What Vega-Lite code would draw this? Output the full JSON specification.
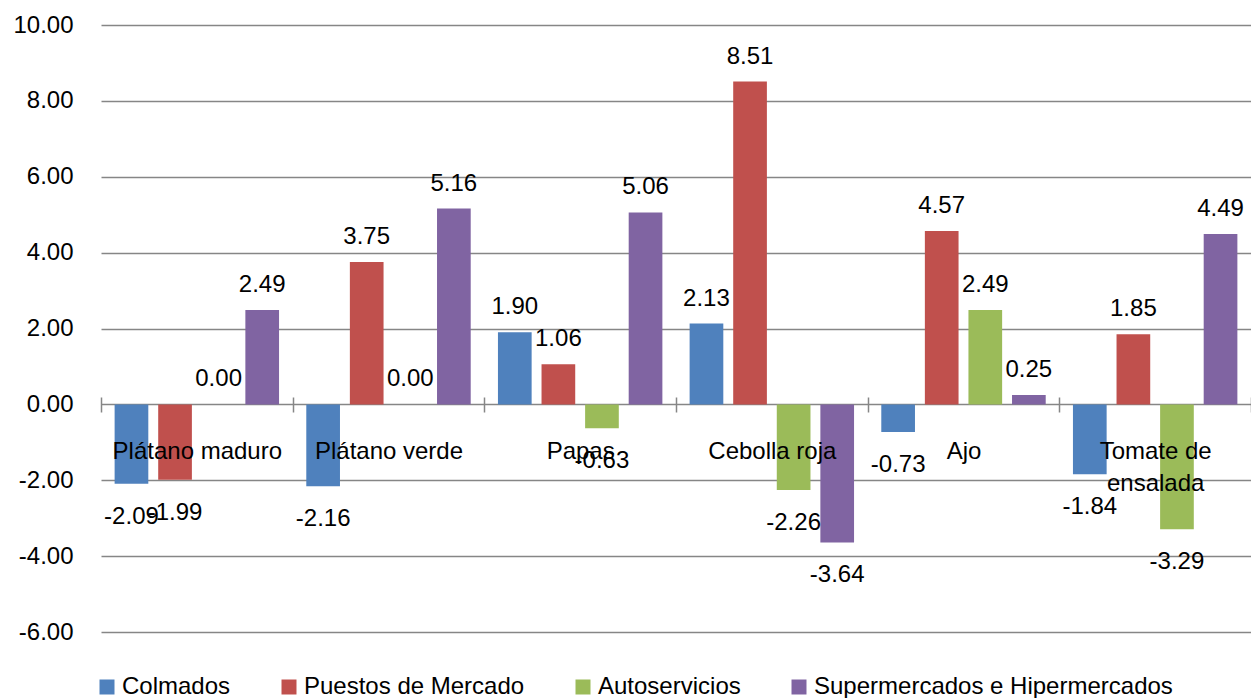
{
  "$schema": "https://vega.github.io/schema/vega-lite/v6.json",
  "width": 1150,
  "height": 607,
  "autosize": {"type": "none"},
  "padding": {"left": 101, "top": 25, "right": 0, "bottom": 66},
  "background": "white",
  "config": {
    "view": {"stroke": null},
    "font": "Liberation Sans",
    "text": {"font": "Liberation Sans"},
    "locale": {
      "number": {
        "decimal": ".",
        "thousands": ",",
        "grouping": [3],
        "currency": ["$", ""],
        "minus": "-"
      }
    }
  },
  "data": {
    "values": [
      {"producto": "Plátano maduro", "canal": "Colmados", "valor": -2.09},
      {"producto": "Plátano maduro", "canal": "Puestos de Mercado", "valor": -1.99},
      {"producto": "Plátano maduro", "canal": "Autoservicios", "valor": 0.0},
      {"producto": "Plátano maduro", "canal": "Supermercados e Hipermercados", "valor": 2.49},
      {"producto": "Plátano verde", "canal": "Colmados", "valor": -2.16},
      {"producto": "Plátano verde", "canal": "Puestos de Mercado", "valor": 3.75},
      {"producto": "Plátano verde", "canal": "Autoservicios", "valor": 0.0},
      {"producto": "Plátano verde", "canal": "Supermercados e Hipermercados", "valor": 5.16},
      {"producto": "Papas", "canal": "Colmados", "valor": 1.9},
      {"producto": "Papas", "canal": "Puestos de Mercado", "valor": 1.06},
      {"producto": "Papas", "canal": "Autoservicios", "valor": -0.63},
      {"producto": "Papas", "canal": "Supermercados e Hipermercados", "valor": 5.06},
      {"producto": "Cebolla roja", "canal": "Colmados", "valor": 2.13},
      {"producto": "Cebolla roja", "canal": "Puestos de Mercado", "valor": 8.51},
      {"producto": "Cebolla roja", "canal": "Autoservicios", "valor": -2.26},
      {"producto": "Cebolla roja", "canal": "Supermercados e Hipermercados", "valor": -3.64},
      {"producto": "Ajo", "canal": "Colmados", "valor": -0.73},
      {"producto": "Ajo", "canal": "Puestos de Mercado", "valor": 4.57},
      {"producto": "Ajo", "canal": "Autoservicios", "valor": 2.49},
      {"producto": "Ajo", "canal": "Supermercados e Hipermercados", "valor": 0.25},
      {"producto": "Tomate de ensalada", "canal": "Colmados", "valor": -1.84},
      {"producto": "Tomate de ensalada", "canal": "Puestos de Mercado", "valor": 1.85},
      {"producto": "Tomate de ensalada", "canal": "Autoservicios", "valor": -3.29},
      {"producto": "Tomate de ensalada", "canal": "Supermercados e Hipermercados", "valor": 4.49}
    ]
  },
  "encoding": {
    "x": {
      "field": "producto",
      "type": "nominal",
      "sort": null,
      "title": null,
      "scale": {"paddingInner": 0, "paddingOuter": 0},
      "axis": {
        "orient": "bottom",
        "offset": -235,
        "zindex": 1,
        "domain": false,
        "ticks": true,
        "tickBand": "extent",
        "tickSize": 15,
        "tickColor": "#868686",
        "tickWidth": 1.5,
        "labelAngle": 0,
        "labelFontSize": 24,
        "labelColor": "black",
        "labelBaseline": "alphabetic",
        "labelPadding": 46,
        "labelLineHeight": 32,
        "labelLimit": 400,
        "labelExpr": "datum.value == 'Tomate de ensalada' ? ['Tomate de', 'ensalada'] : datum.label",
        "grid": false
      }
    },
    "xOffset": {
      "field": "canal",
      "type": "nominal",
      "sort": ["Colmados", "Puestos de Mercado", "Autoservicios", "Supermercados e Hipermercados"],
      "scale": {"paddingInner": 0.227, "paddingOuter": 0.3125}
    },
    "y": {
      "field": "valor",
      "type": "quantitative",
      "title": null,
      "scale": {"domain": [-6, 10], "nice": false, "zero": false},
      "axis": {
        "values": [-6, -4, -2, 0, 2, 4, 6, 8, 10],
        "format": ".2f",
        "domain": false,
        "ticks": false,
        "grid": true,
        "gridColor": "#868686",
        "gridWidth": 1.5,
        "labelFontSize": 24,
        "labelColor": "black",
        "labelPadding": 28
      }
    }
  },
  "layer": [
    {
      "mark": {"type": "bar"},
      "encoding": {
        "color": {
          "field": "canal",
          "type": "nominal",
          "sort": ["Colmados", "Puestos de Mercado", "Autoservicios", "Supermercados e Hipermercados"],
          "scale": {
            "domain": ["Colmados", "Puestos de Mercado", "Autoservicios", "Supermercados e Hipermercados"],
            "range": ["#4F81BD", "#C0504D", "#9BBB59", "#8064A2"]
          },
          "legend": {
            "orient": "none",
            "legendX": -6,
            "legendY": 650,
            "direction": "horizontal",
            "title": null,
            "symbolType": "square",
            "symbolSize": 225,
            "symbolStrokeWidth": 0,
            "labelFontSize": 24,
            "labelColor": "black",
            "labelOffset": 3,
            "columnPadding": 46,
            "padding": 0,
            "labelLimit": 500
          }
        }
      }
    },
    {
      "transform": [{"filter": "datum.valor >= 0"}],
      "mark": {"type": "text", "fontSize": 24, "color": "black", "baseline": "alphabetic", "dy": -18},
      "encoding": {
        "text": {"field": "valor", "type": "quantitative", "format": ".2f"}
      }
    },
    {
      "transform": [{"filter": "datum.valor < 0"}],
      "mark": {"type": "text", "fontSize": 24, "color": "black", "baseline": "alphabetic", "dy": 40},
      "encoding": {
        "text": {"field": "valor", "type": "quantitative", "format": ".2f"}
      }
    }
  ]
}
